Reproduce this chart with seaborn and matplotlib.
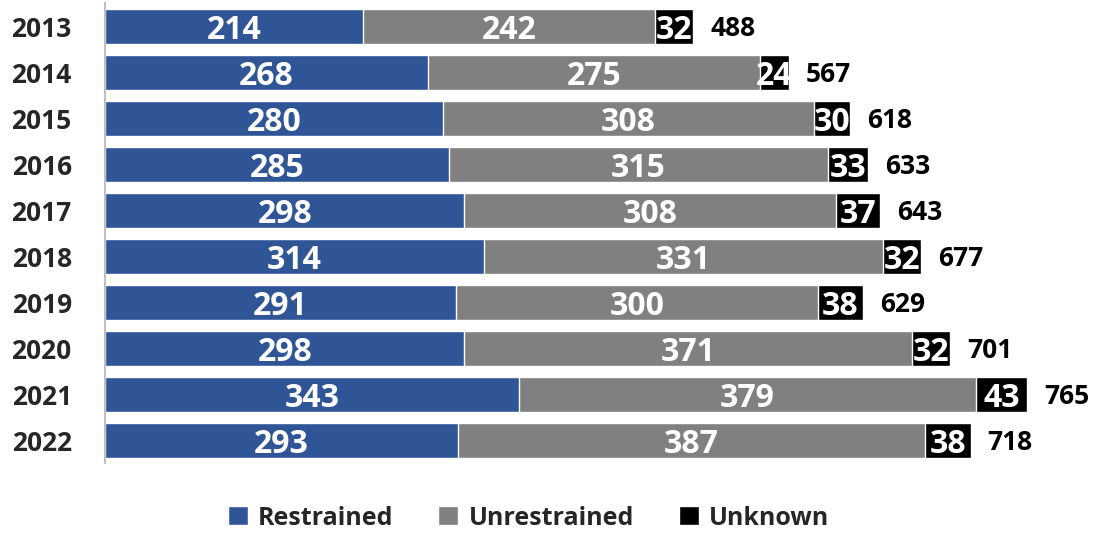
import seaborn as sns
import matplotlib.pyplot as plt
import pandas as pd

years = ['2013', '2014', '2015', '2016', '2017', '2018', '2019', '2020', '2021', '2022']
restrained = [214, 268, 280, 285, 298, 314, 291, 298, 343, 293]
unrestrained = [242, 275, 308, 315, 308, 331, 300, 371, 379, 387]
unknown = [32, 24, 30, 33, 37, 32, 38, 32, 43, 38]
totals = [488, 567, 618, 633, 643, 677, 629, 701, 765, 718]

blue = '#2F5597'
gray = '#808080'
black = '#000000'

sns.set_style('white')
plt.rcParams['font.family'] = ['Open Sans', 'DejaVu Sans']
plt.rcParams['font.weight'] = 'bold'

df = pd.DataFrame({'year': years, 'r': restrained, 'u': unrestrained, 'k': unknown})
df['ru'] = df['r'] + df['u']
df['ruk'] = df['ru'] + df['k']

fig = plt.figure(figsize=(11.01, 5.33), dpi=100)
ax = fig.add_axes([0.0954, 0.131, 0.898, 0.863])

# stacked bars drawn as cumulative layers, back to front
sns.barplot(data=df, x='ruk', y='year', orient='h', color=black, width=0.76,
            saturation=1, ax=ax, label='Unknown')
sns.barplot(data=df, x='ru', y='year', orient='h', color=gray, width=0.76,
            saturation=1, ax=ax, label='Unrestrained')
sns.barplot(data=df, x='r', y='year', orient='h', color=blue, width=0.76,
            saturation=1, ax=ax, label='Restrained')

def seg_label(x, y, txt):
    ax.annotate(txt, (x, y), xytext=(0, -3), textcoords='offset points',
                color='white', fontsize=23, fontweight='bold',
                ha='center', va='center')

for i, row in df.iterrows():
    seg_label(row['r'] / 2, i, str(row['r']))
    seg_label(row['r'] + row['u'] / 2, i, str(row['u']))
    seg_label(row['ru'] + row['k'] / 2, i, str(row['k']))
    ax.annotate(str(totals[i]), (row['ruk'], i), xytext=(12, -2),
                textcoords='offset points', ha='left', va='center',
                fontsize=19, fontweight='bold', color='black')

ax.set_xlim(0, 820)
ax.set_ylim(9.5, -0.5)
ax.set_xlabel('')
ax.set_ylabel('')
ax.set_xticks([])
ax.tick_params(axis='y', length=0, pad=24, labelsize=19)
for lab in ax.get_yticklabels():
    lab.set_fontweight('bold')
for s in ['top', 'right', 'bottom']:
    ax.spines[s].set_visible(False)
ax.spines['left'].set_color('#BFBFBF')
ax.spines['left'].set_linewidth(1.5)

handles, labels = ax.get_legend_handles_labels()
order = [labels.index(n) for n in ['Restrained', 'Unrestrained', 'Unknown']]
fig.legend([handles[j] for j in order], [labels[j] for j in order],
           loc='center', bbox_to_anchor=(0.48, 0.028), ncol=3, frameon=False,
           fontsize=18, handlelength=0.8, handleheight=0.8, handletextpad=0.4,
           columnspacing=1.8)
if ax.get_legend():
    ax.get_legend().remove()

plt.savefig('out.png', dpi=100)
